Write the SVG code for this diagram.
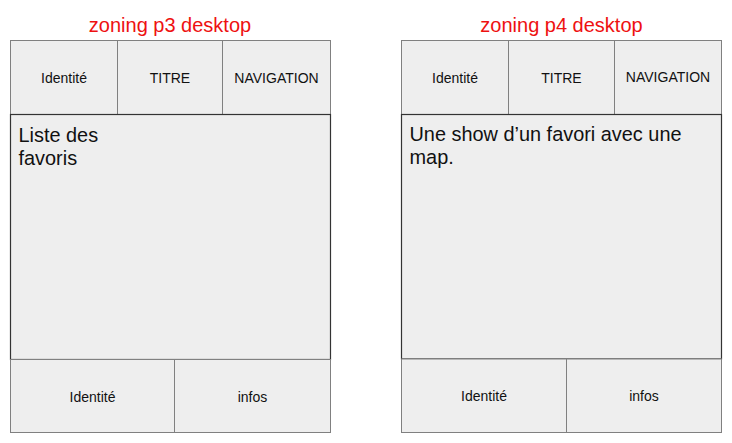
<svg xmlns="http://www.w3.org/2000/svg" width="732" height="443" viewBox="0 0 732 443">
<style>
.cell{fill:#eeeeee;stroke:#808080;stroke-width:1}
.body{fill:#eeeeee;stroke:#333333;stroke-width:1.2}
.lbl{font-family:"Liberation Sans",Arial,sans-serif;font-size:14px;fill:#111111;text-anchor:middle;dominant-baseline:central}
.big{font-family:"Liberation Sans",Arial,sans-serif;font-size:19.9px;fill:#111111}
.title{font-family:"Liberation Sans",Arial,sans-serif;font-size:20px;fill:#ee1111;text-anchor:middle}
</style>
<rect width="732" height="443" fill="#ffffff"/>
<g id="p3">
  <text class="title" x="170" y="32">zoning p3 desktop</text>
  <g id="p3-identite"><rect class="cell" x="10.5" y="40.5" width="107" height="74"/><text class="lbl" x="64" y="77.5">Identité</text></g>
  <g id="p3-titre"><rect class="cell" x="117.5" y="40.5" width="105" height="74"/><text class="lbl" x="170" y="77.5">TITRE</text></g>
  <g id="p3-nav"><rect class="cell" x="222.5" y="40.5" width="108" height="74"/><text class="lbl" x="276.5" y="77.5">NAVIGATION</text></g>
  <g id="p3-body"><rect class="body" x="10.5" y="114.5" width="320" height="245"/><text class="big" x="18.5" y="141.5">Liste des</text><text class="big" x="18.5" y="165">favoris</text></g>
  <g id="p3-foot-identite"><rect class="cell" x="10.5" y="359.5" width="164" height="73"/><text class="lbl" x="92.5" y="396.5">Identité</text></g>
  <g id="p3-foot-infos"><rect class="cell" x="174.5" y="359.5" width="156" height="73"/><text class="lbl" x="252.5" y="396.5">infos</text></g>
</g>
<g id="p4">
  <text class="title" x="561.5" y="32">zoning p4 desktop</text>
  <g id="p4-identite"><rect class="cell" x="401.5" y="40.5" width="107" height="74"/><text class="lbl" x="455" y="77.5">Identité</text></g>
  <g id="p4-titre"><rect class="cell" x="508.5" y="40.5" width="106" height="74"/><text class="lbl" x="561.5" y="77.5">TITRE</text></g>
  <g id="p4-nav"><rect class="cell" x="614.5" y="40.5" width="107" height="74"/><text class="lbl" x="668" y="77">NAVIGATION</text></g>
  <g id="p4-body"><rect class="body" x="401.5" y="114.5" width="320" height="244.5"/><text class="big" x="409.5" y="140.5">Une show d’un favori avec une</text><text class="big" x="409.5" y="164">map.</text></g>
  <g id="p4-foot-identite"><rect class="cell" x="401.5" y="359" width="165" height="73.5"/><text class="lbl" x="484" y="396">Identité</text></g>
  <g id="p4-foot-infos"><rect class="cell" x="566.5" y="359" width="155" height="73.5"/><text class="lbl" x="644" y="396">infos</text></g>
</g>
<g id="connectors"/>
</svg>
